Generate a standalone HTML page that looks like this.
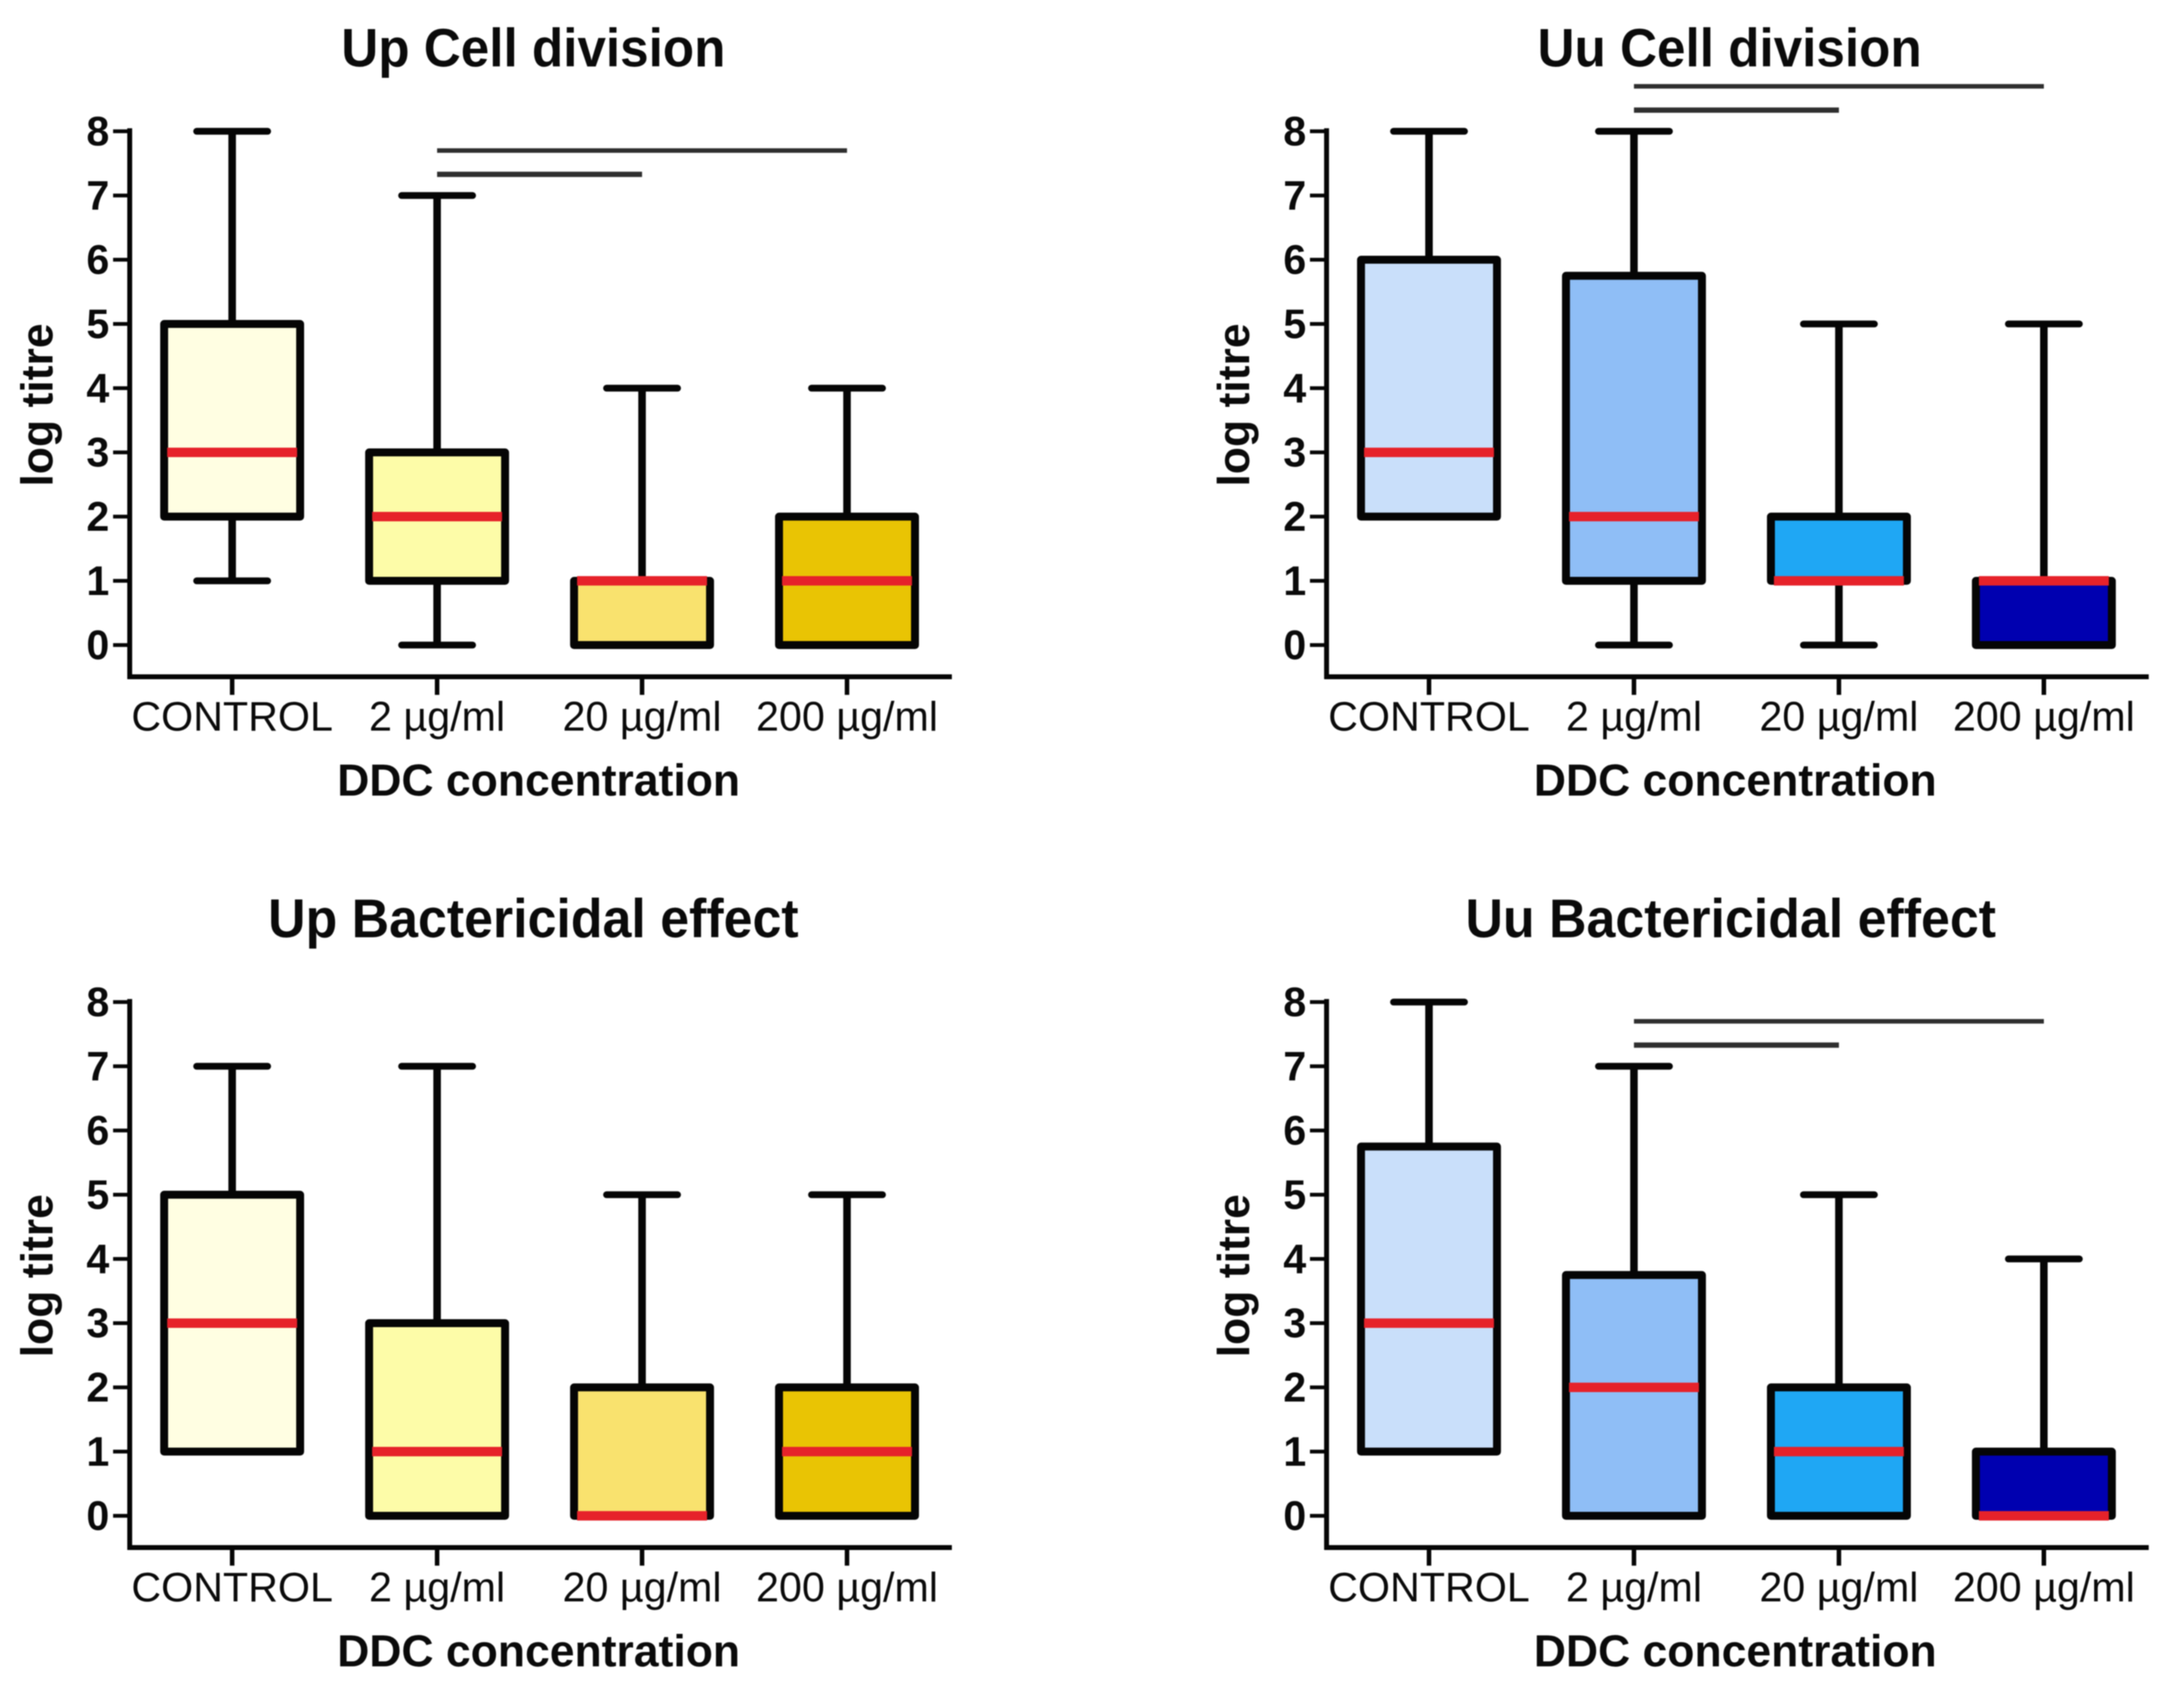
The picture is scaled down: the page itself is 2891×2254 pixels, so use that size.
<!DOCTYPE html>
<html lang="en">
<head>
<meta charset="utf-8">
<title>DDC concentration box plots</title>
<style>
  html, body { margin: 0; padding: 0; background: #ffffff; }
  #figure { display: block; width: 2891px; height: 2254px; filter: blur(0.7px); }
  text { font-family: "Liberation Sans", Arial, sans-serif; fill: #0a0a0a; }
  .title { font-weight: bold; text-anchor: middle; }
  .title-short { font-size: 67.8px; }
  .title-long { font-size: 68.7px; }
  .axis-title { font-size: 58.9px; font-weight: bold; text-anchor: middle; }
  .y-tick { font-size: 54.5px; font-weight: bold; text-anchor: end; }
  .x-tick { font-size: 54.6px; text-anchor: middle; }
</style>
</head>
<body>
<svg id="figure" xmlns="http://www.w3.org/2000/svg" width="2891" height="2254" viewBox="0 0 2891 2254">
  <rect x="0" y="0" width="2891" height="2254" fill="#ffffff"/>
  <g id="panel-up-cell">
    <text class="title title-short" transform="translate(706 88) scale(1 1.05)">Up Cell division</text>
    <text class="axis-title" x="713" y="1053">DDC concentration</text>
    <text class="axis-title" transform="translate(69.5 536) rotate(-90)">log titre</text>
  </g>
  <g id="panel-uu-cell">
    <text class="title title-short" transform="translate(2289.5 88) scale(1 1.05)">Uu Cell division</text>
    <text class="axis-title" x="2297" y="1053">DDC concentration</text>
    <text class="axis-title" transform="translate(1653.5 536) rotate(-90)">log titre</text>
  </g>
  <g id="panel-up-bact">
    <text class="title title-long" transform="translate(706 1240.5) scale(1 1.05)">Up Bactericidal effect</text>
    <text class="axis-title" x="713" y="2205.5">DDC concentration</text>
    <text class="axis-title" transform="translate(69.5 1688.5) rotate(-90)">log titre</text>
  </g>
  <g id="panel-uu-bact">
    <text class="title title-long" transform="translate(2291 1240.5) scale(1 1.05)">Uu Bactericidal effect</text>
    <text class="axis-title" x="2297" y="2205.5">DDC concentration</text>
    <text class="axis-title" transform="translate(1653.5 1688.5) rotate(-90)">log titre</text>
  </g>
</svg>
<script>
// Shared axes
const categories = ['CONTROL', '2 \u00b5g/ml', '20 \u00b5g/ml', '200 \u00b5g/ml'];
const yTickValues = [0, 1, 2, 3, 4, 5, 6, 7, 8];

// Up Cell division
const upCellLow = [1, 0, 0, 0];
const upCellQ1 = [2, 1, 0, 0];
const upCellMedian = [3, 2, 1, 1];
const upCellQ3 = [5, 3, 1, 2];
const upCellHigh = [8, 7, 4, 4];
const upCellSigFrom = [1, 1];
const upCellSigTo = [2, 3];
const upCellSigLevel = [7.33, 7.7];

// Uu Cell division
const uuCellLow = [2, 0, 0, 0];
const uuCellQ1 = [2, 1, 1, 0];
const uuCellMedian = [3, 2, 1, 1];
const uuCellQ3 = [6, 5.75, 2, 1];
const uuCellHigh = [8, 8, 5, 5];
const uuCellSigFrom = [1, 1];
const uuCellSigTo = [2, 3];
const uuCellSigLevel = [8.33, 8.7];

// Up Bactericidal effect
const upBactLow = [1, 0, 0, 0];
const upBactQ1 = [1, 0, 0, 0];
const upBactMedian = [3, 1, 0, 1];
const upBactQ3 = [5, 3, 2, 2];
const upBactHigh = [7, 7, 5, 5];
const upBactSigFrom = [];
const upBactSigTo = [];
const upBactSigLevel = [];

// Uu Bactericidal effect
const uuBactLow = [1, 0, 0, 0];
const uuBactQ1 = [1, 0, 0, 0];
const uuBactMedian = [3, 2, 1, 0];
const uuBactQ3 = [5.75, 3.75, 2, 1];
const uuBactHigh = [8, 7, 5, 4];
const uuBactSigFrom = [1, 1];
const uuBactSigTo = [2, 3];
const uuBactSigLevel = [7.33, 7.7];

const yellowFills = ['#fffee2', '#fdfca8', '#f9e26e', '#e9c404'];
const blueFills = ['#c9dffa', '#8fbef6', '#1fa7f4', '#0000b0'];

const SVG_NS = 'http://www.w3.org/2000/svg';

function addLine(parent, x1, y1, x2, y2, color, width, cap) {
  const el = document.createElementNS(SVG_NS, 'line');
  el.setAttribute('x1', x1);
  el.setAttribute('y1', y1);
  el.setAttribute('x2', x2);
  el.setAttribute('y2', y2);
  el.setAttribute('stroke', color);
  el.setAttribute('stroke-width', width);
  el.setAttribute('stroke-linecap', cap || 'butt');
  parent.appendChild(el);
  return el;
}

function drawPanel(panelId, dx, dy, low, q1, median, q3, high, sigFrom, sigTo, sigLevel, fills) {
  const root = document.getElementById(panelId);
  const yScale = function (v) { return 853.8 + dy - 85 * v; };
  const xScale = function (i) { return 307.3 + dx + 271.3 * i; };
  const axisX = 171.7 + dx;
  const axisY = 895.7 + dy;
  const axisEnd = 1260 + dx;
  const ink = '#050505';

  const yAxis = addLine(root, axisX, yScale(8) - 4, axisX, axisY + 3, ink, 6.5);
  
  

  const xAxis = addLine(root, axisX - 3, axisY, axisEnd, axisY, ink, 6.5);
  
  

  yTickValues.forEach(function (v) {
    const tick = addLine(root, axisX - 22, yScale(v), axisX, yScale(v), ink, 5);
    
    

    const label = document.createElementNS(SVG_NS, 'text');
    label.setAttribute('class', 'y-tick');
    label.setAttribute('x', axisX - 27);
    label.setAttribute('y', yScale(v) + 18.5);
    
    
    label.textContent = String(v);
    root.appendChild(label);
  });

  categories.forEach(function (name, i) {
    const cx = xScale(i);

    const tick = addLine(root, cx, axisY, cx, axisY + 24, ink, 6);
    
    

    const label = document.createElementNS(SVG_NS, 'text');
    label.setAttribute('class', 'x-tick');
    label.setAttribute('x', cx);
    label.setAttribute('y', axisY + 71.5);
    
    
    label.textContent = name;
    root.appendChild(label);

    const upper = addLine(root, cx, yScale(high[i]), cx, yScale(q3[i]), ink, 10);
    
    

    const upperCap = addLine(root, cx - 47, yScale(high[i]), cx + 47, yScale(high[i]), ink, 9, 'round');
    
    

    if (low[i] < q1[i]) {
      const lower = addLine(root, cx, yScale(q1[i]), cx, yScale(low[i]), ink, 10);
      
      

      const lowerCap = addLine(root, cx - 47, yScale(low[i]), cx + 47, yScale(low[i]), ink, 9, 'round');
      
      
    }

    const box = document.createElementNS(SVG_NS, 'rect');
    box.setAttribute('x', cx - 90);
    box.setAttribute('y', yScale(q3[i]));
    box.setAttribute('width', 180);
    box.setAttribute('height', yScale(q1[i]) - yScale(q3[i]));
    box.setAttribute('fill', fills[i]);
    box.setAttribute('stroke', ink);
    box.setAttribute('stroke-width', 10.5);
    box.setAttribute('stroke-linejoin', 'round');
    
    
    root.appendChild(box);

    const med = addLine(root, cx - 86, yScale(median[i]), cx + 86, yScale(median[i]), '#e6222a', 12.5);
    
    
  });

  sigLevel.forEach(function (level, i) {
    const bar = addLine(root, xScale(sigFrom[i]), yScale(level), xScale(sigTo[i]), yScale(level), '#2e2e2e', level % 1 > 0.5 ? 6 : 7);
    
    
  });
}

drawPanel('panel-up-cell', 0, 0, upCellLow, upCellQ1, upCellMedian, upCellQ3, upCellHigh, upCellSigFrom, upCellSigTo, upCellSigLevel, yellowFills);
drawPanel('panel-uu-cell', 1584.3, 0, uuCellLow, uuCellQ1, uuCellMedian, uuCellQ3, uuCellHigh, uuCellSigFrom, uuCellSigTo, uuCellSigLevel, blueFills);
drawPanel('panel-up-bact', 0, 1152.5, upBactLow, upBactQ1, upBactMedian, upBactQ3, upBactHigh, upBactSigFrom, upBactSigTo, upBactSigLevel, yellowFills);
drawPanel('panel-uu-bact', 1584.3, 1152.5, uuBactLow, uuBactQ1, uuBactMedian, uuBactQ3, uuBactHigh, uuBactSigFrom, uuBactSigTo, uuBactSigLevel, blueFills);
</script>
</body>
</html>
